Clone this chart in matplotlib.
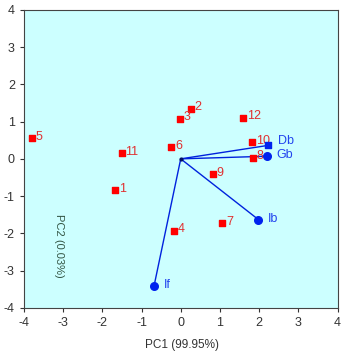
import matplotlib
matplotlib.use("Agg")
import matplotlib.pyplot as plt

plt.rcParams['font.family'] = ['Liberation Sans', 'DejaVu Sans']
plt.rcParams['axes.unicode_minus'] = False

# sample scores
sample_ids = ['1', '2', '3', '4', '5', '6', '7', '8', '9', '10', '11', '12']
pc1 = [-1.68, 0.25, -0.03, -0.17, -3.8, -0.24, 1.06, 1.84, 0.82, 1.81, -1.51, 1.58]
pc2 = [-0.84, 1.35, 1.08, -1.93, 0.56, 0.31, -1.73, 0.03, -0.41, 0.45, 0.15, 1.10]

# variable loadings
var_names = ['Db', 'Gb', 'Ib', 'If']
var_x = [2.22, 2.19, 1.98, -0.68]
var_y = [0.36, 0.07, -1.63, -3.41]

fig = plt.figure(figsize=(3.41, 3.53), dpi=100)
ax = fig.add_axes([0.07, 0.128, 0.92, 0.844])
ax.set_facecolor('#ccffff')

ax.scatter(pc1, pc2, marker='s', s=24, color='#ff0000', zorder=3)
for i, s in enumerate(sample_ids):
    ax.text(pc1[i] + 0.1, pc2[i] + 0.04, s, color='#e03030', fontsize=9, va='center')

for i, v in enumerate(var_names):
    ax.plot([0, var_x[i]], [0, var_y[i]], color='#0022dd', lw=1, zorder=2)
    mk = 's' if v == 'Db' else 'o'
    ax.scatter([var_x[i]], [var_y[i]], marker=mk, s=22 if mk == 's' else 30, color='#0022ee', zorder=4)
    dy = 0.12 if v == 'Db' else 0.02
    ax.text(var_x[i] + 0.25, var_y[i] + dy, v, color='#2244ee', fontsize=9, va='center')
ax.scatter([0], [0], s=4, color='#001166', zorder=4)

ax.set_xlim(-4, 4)
ax.set_ylim(-4, 4)
ax.set_xticks(range(-4, 5))
ax.set_yticks(range(-4, 5))
ax.tick_params(labelsize=9, length=3, colors='#333333')
for sp in ax.spines.values():
    sp.set_color('#444444')

ax.text(-3.1, -2.35, 'PC2 (0.03%)', rotation=-90, fontsize=8, color='#335544',
        ha='center', va='center')
fig.text(0.535, 0.005, 'PC1 (99.95%)', fontsize=8.5, color='#333333', ha='center', va='bottom')

fig.savefig('out.png', dpi=100)
